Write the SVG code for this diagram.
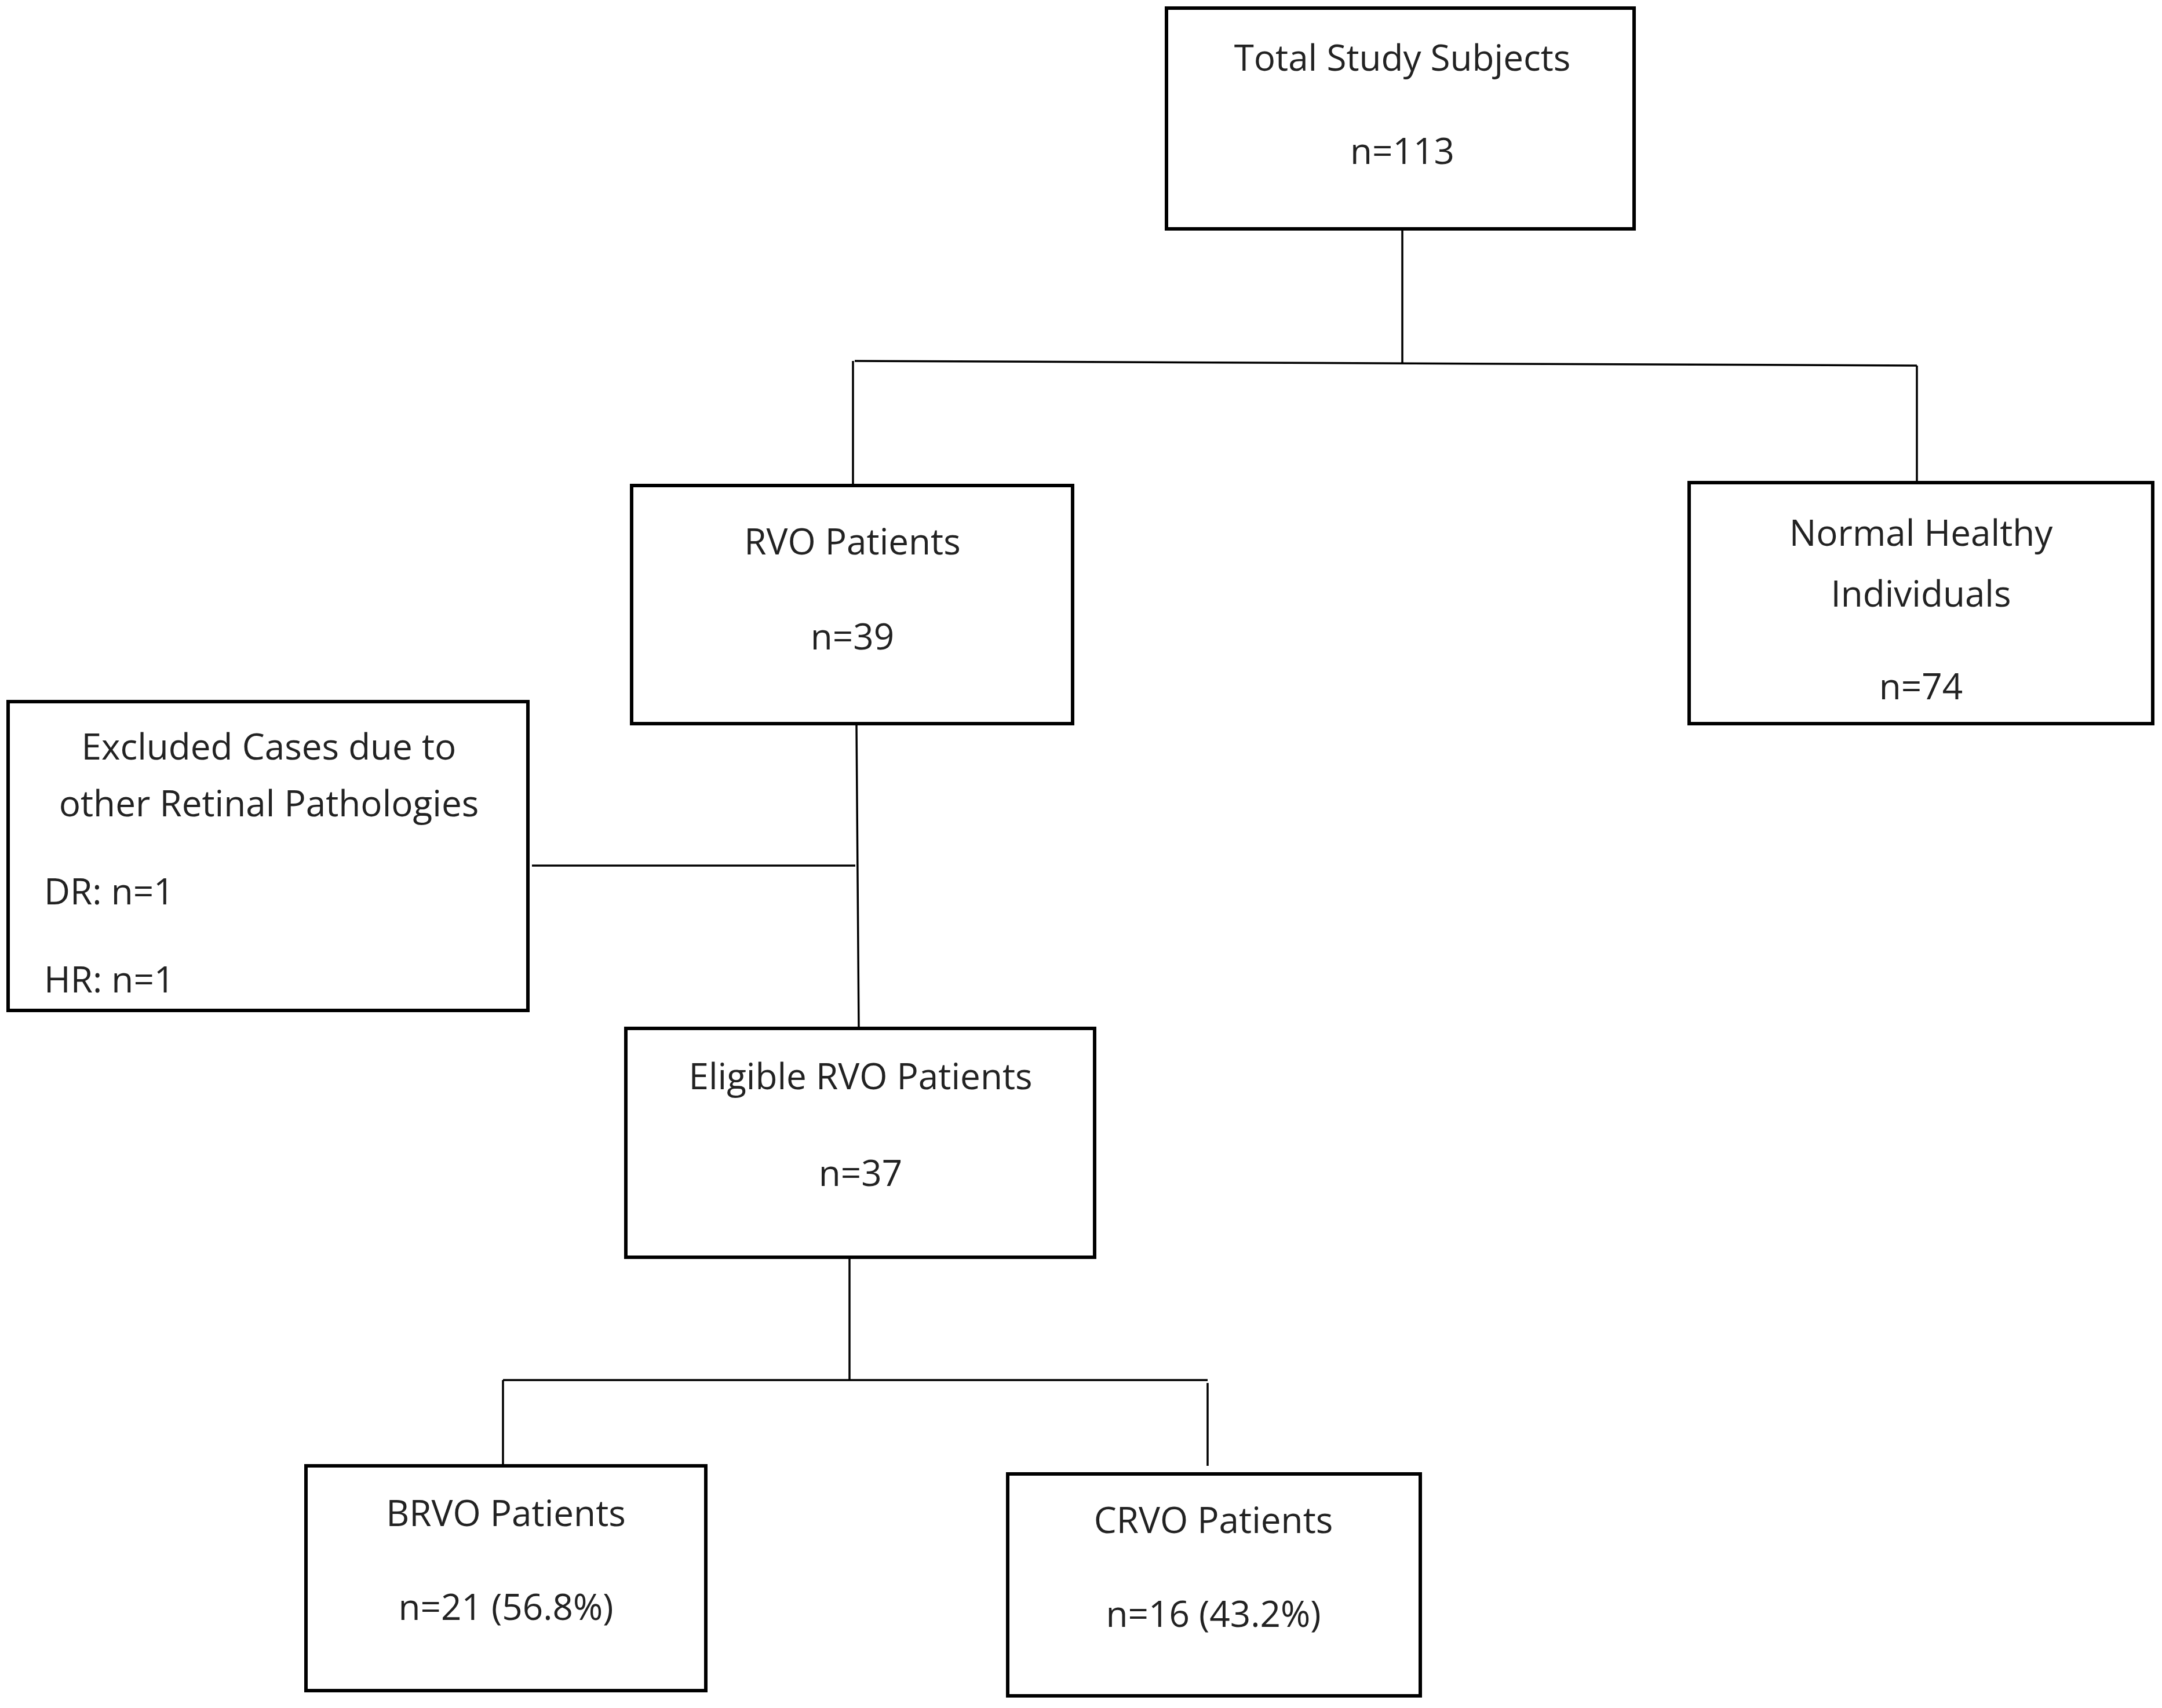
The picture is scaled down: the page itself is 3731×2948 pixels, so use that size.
<svg xmlns="http://www.w3.org/2000/svg" width="3731" height="2948" viewBox="0 0 3731 2948">
<style>
.b{fill:#fff;stroke:#000;stroke-width:6}
.l{stroke:#000;stroke-width:3.5;fill:none}
text{font-family:"Open Sans","Noto Sans",sans-serif;font-size:62px;fill:#222;text-anchor:middle;dominant-baseline:central}
.s{text-anchor:start}
</style>
<rect width="3731" height="2948" fill="#fff"/>
<g id="connectors">
<path class="l" d="M2420,395V626M1475,623L3308,631M1472,623V838M3308,631V833M1478,1249L1482,1775M918,1494H1476M1466,2170V2382M868,2382H2084M868,2382V2530M2084,2387V2530"/>
</g>
<g id="total"><rect class="b" x="2013" y="14" width="807" height="381"/><text x="2420" y="98">Total Study Subjects</text><text x="2420" y="259">n=113</text></g>
<g id="rvo"><rect class="b" x="1090" y="838" width="761" height="411"/><text x="1471" y="933">RVO Patients</text><text x="1471" y="1097">n=39</text></g>
<g id="normal"><rect class="b" x="2915" y="833" width="800" height="416"/><text x="3315" y="918">Normal Healthy</text><text x="3315" y="1023">Individuals</text><text x="3315" y="1183">n=74</text></g>
<g id="excluded"><rect class="b" x="14" y="1211" width="897" height="533"/><text x="464" y="1287">Excluded Cases due to</text><text x="464" y="1385">other Retinal Pathologies</text><text class="s" x="76" y="1537">DR: n=1</text><text class="s" x="76" y="1689">HR: n=1</text></g>
<g id="eligible"><rect class="b" x="1080" y="1775" width="809" height="395"/><text x="1485" y="1856">Eligible RVO Patients</text><text x="1485" y="2023">n=37</text></g>
<g id="brvo"><rect class="b" x="528" y="2530" width="690" height="388"/><text x="873" y="2610">BRVO Patients</text><text x="873" y="2772">n=21 (56.8%)</text></g>
<g id="crvo"><rect class="b" x="1739" y="2544" width="712" height="383"/><text x="2094" y="2622">CRVO Patients</text><text x="2094" y="2784">n=16 (43.2%)</text></g>
</svg>
